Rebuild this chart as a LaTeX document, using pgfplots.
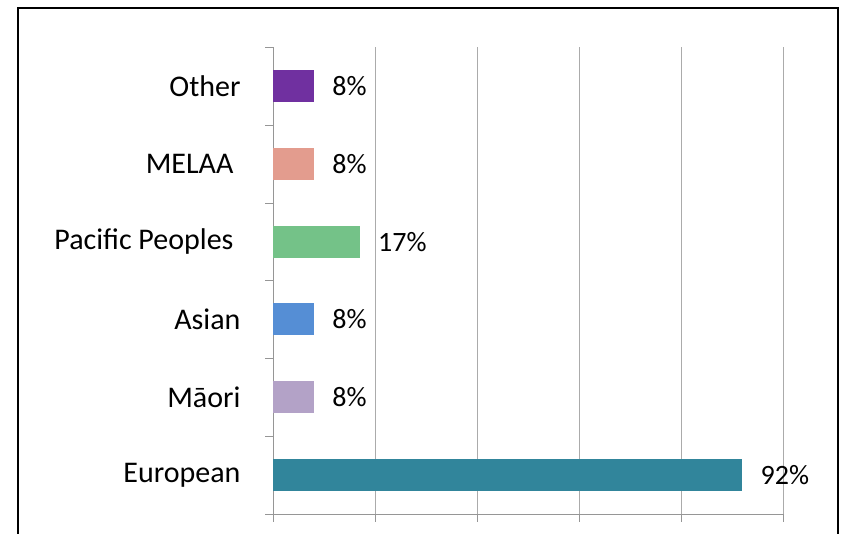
\documentclass[border=0pt]{standalone}
\usepackage{fontspec}
\setmainfont{Carlito}
\usepackage{pgfplots}
\pgfplotsset{compat=1.18}
\definecolor{cOther}{RGB}{112,48,160}
\definecolor{cMelaa}{RGB}{227,156,142}
\definecolor{cPacific}{RGB}{116,194,136}
\definecolor{cAsian}{RGB}{85,142,213}
\definecolor{cMaori}{RGB}{179,162,199}
\definecolor{cEuro}{RGB}{49,133,155}
\definecolor{axgray}{RGB}{150,150,150}
\begin{document}
\begin{tikzpicture}[x=1pt,y=1pt]
\useasboundingbox (0,0) rectangle (849,534);
% outer chart frame (bottom edge is cut off in the reference)
\draw[line width=2pt] (18,-2) -- (18,526) -- (838,526) -- (838,-2);
\begin{axis}[
    at={(273pt,20pt)}, anchor=south west,
    scale only axis,
    width=510pt, height=467pt,
    xbar, bar width=32pt,
    xmin=0, xmax=100,
    ymin=-0.5, ymax=5.5,
    xtick={0,20,...,100}, xticklabels={},
    ytick={-0.5,0.5,...,5.5}, yticklabels={},
    extra y ticks={0,...,5},
    extra y tick labels={European, Māori, Asian, Pacific Peoples\hspace*{7pt}, MELAA\hspace*{7pt}, Other},
    extra y tick style={major tick length=0pt, ymajorgrids=false},
    major tick length=8pt,
    tick align=outside,
    tick style={draw=axgray},
    xmajorgrids, major grid style={draw=axgray!80, line width=0.8pt},
    axis x line*=bottom, axis y line*=left,
    axis line style={draw=axgray, line width=0.8pt, -},
    /pgf/number format/assume math mode=true,
    yticklabel style={font=\fontsize{30}{34}\selectfont, xshift=-29pt},
    nodes near coords={\pgfmathprintnumber{\pgfplotspointmeta}\%},
    every node near coord/.append style={font=\fontsize{28}{32}\selectfont, xshift=15pt, text=black},
    bar shift=0pt,
]
\addplot[fill=cEuro, draw=none] coordinates {(92,0)};
\addplot[fill=cMaori, draw=none] coordinates {(8,1)};
\addplot[fill=cAsian, draw=none] coordinates {(8,2)};
\addplot[fill=cPacific, draw=none] coordinates {(17,3)};
\addplot[fill=cMelaa, draw=none] coordinates {(8,4)};
\addplot[fill=cOther, draw=none] coordinates {(8,5)};
\end{axis}
\end{tikzpicture}
\end{document}
